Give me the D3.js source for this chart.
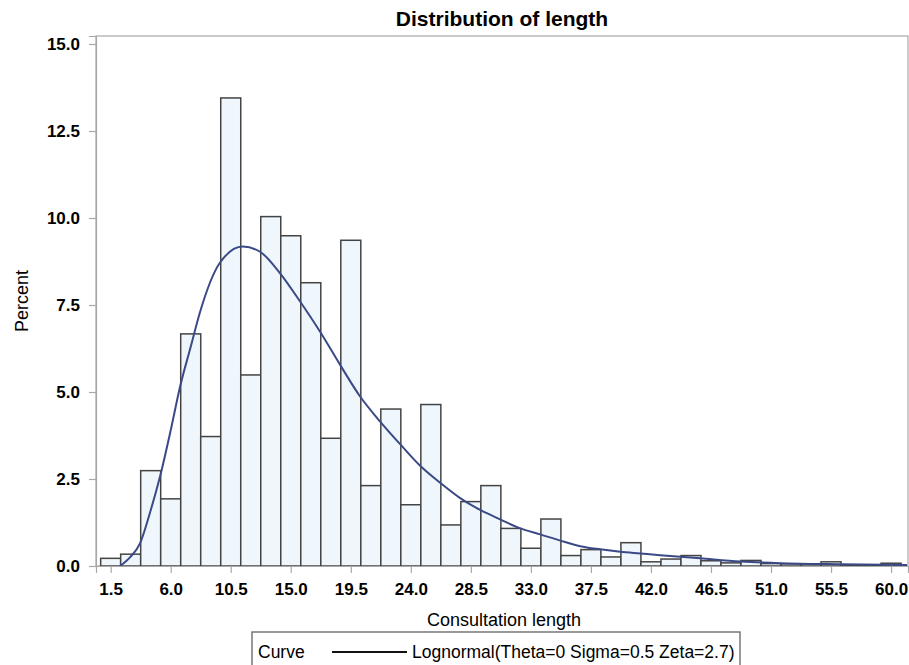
<!DOCTYPE html>
<html>
<head>
<meta charset="utf-8">
<script src="https://cdn.jsdelivr.net/npm/d3@7"></script>
<style>
  body { margin: 0; background: #fff; }
  svg { display: block; font-family: "Liberation Sans", Arial, sans-serif; }
</style>
</head>
<body>
<div id="chart"></div>
<script>
// bin midpoints (width 1.5) and percent per bin
const binMid = [1.5, 3.0, 4.5, 6.0, 7.5, 9.0, 10.5, 12.0, 13.5, 15.0,
                16.5, 18.0, 19.5, 21.0, 22.5, 24.0, 25.5, 27.0, 28.5, 30.0,
                31.5, 33.0, 34.5, 36.0, 37.5, 39.0, 40.5, 42.0, 43.5, 45.0,
                46.5, 48.0, 49.5, 51.0, 52.5, 54.0, 55.5, 57.0, 58.5, 60.0];
const binPct = [0.22, 0.34, 2.74, 1.93, 6.67, 3.72, 13.45, 5.49, 10.04, 9.49,
                8.14, 3.67, 9.36, 2.31, 4.51, 1.76, 4.64, 1.18, 1.85, 2.31,
                1.08, 0.51, 1.35, 0.30, 0.47, 0.26, 0.67, 0.12, 0.20, 0.30,
                0.15, 0.09, 0.16, 0.07, 0.06, 0.06, 0.12, 0.02, 0.02, 0.08];

// fitted lognormal curve
const curveX = [2.2, 3.0, 3.7, 4.5, 5.2, 6.0, 6.7, 7.5, 8.2, 9.7,
                11.4, 12.7, 14.2, 15.7, 17.2, 18.7, 20.2, 21.7, 23.2, 24.7,
                26.2, 27.7, 29.2, 30.7, 32.2, 33.7, 35.2, 36.7, 38.2, 39.7,
                41.2, 42.7, 45.7, 48.7, 51.7, 56.2, 61.2];
const curveY = [0.0, 0.27, 0.65, 1.6, 2.57, 3.9, 5.15, 6.3, 7.3, 8.72,
                9.18, 9.03, 8.41, 7.6, 6.73, 5.78, 4.87, 4.15, 3.5, 2.88,
                2.39, 1.95, 1.61, 1.34, 1.08, 0.91, 0.73, 0.57, 0.48, 0.41,
                0.36, 0.31, 0.22, 0.13, 0.08, 0.05, 0.03];

const xTicks = d3.range(0, 14).map(i => 1.5 + i * 4.5);
const yTicks = [0, 2.5, 5, 7.5, 10, 12.5, 15];

const width = 909, height = 665;
const plot = { left: 96, right: 908, top: 36, bottom: 566 };

const svg = d3.select("#chart").append("svg")
  .attr("width", width)
  .attr("height", height);

const x = d3.scaleLinear().domain([0.4, 61.27]).range([plot.left, plot.right]);
const y = d3.scaleLinear().domain([0, 15.23]).range([plot.bottom, plot.top]);

// frame
svg.append("rect")
  .attr("x", plot.left).attr("y", plot.top)
  .attr("width", plot.right - plot.left)
  .attr("height", plot.bottom - plot.top)
  .attr("fill", "none")
  .attr("stroke", "#a8a8a8")
  .attr("stroke-width", 1.2);

// bars
svg.append("g")
  .selectAll("rect")
  .data(binMid)
  .join("rect")
  .attr("x", d => x(d - 0.75))
  .attr("y", (d, i) => y(binPct[i]))
  .attr("width", d => x(d + 0.75) - x(d - 0.75))
  .attr("height", (d, i) => y(0) - y(binPct[i]))
  .attr("fill", "#eff7fd")
  .attr("stroke", "#444")
  .attr("stroke-width", 1.5);

// curve
const line = d3.line()
  .x(d => x(d[0]))
  .y(d => y(d[1]))
  .curve(d3.curveMonotoneX);

svg.append("path")
  .datum(curveX.map((v, i) => [v, curveY[i]]))
  .attr("d", line)
  .attr("fill", "none")
  .attr("stroke", "#3b4a86")
  .attr("stroke-width", 2);

// axes
const xAxis = svg.append("g")
  .attr("transform", `translate(0,${plot.bottom})`)
  .call(d3.axisBottom(x).tickValues(xTicks).tickFormat(d3.format(".1f")).tickSize(7).tickPadding(10));
const yAxis = svg.append("g")
  .attr("transform", `translate(${plot.left},0)`)
  .call(d3.axisLeft(y).tickValues(yTicks).tickFormat(d3.format(".1f")).tickSize(7).tickPadding(9));

[xAxis, yAxis].forEach(a => {
  a.select(".domain").attr("stroke", "#a8a8a8").attr("stroke-width", 1.2);
  a.selectAll(".tick line").attr("stroke", "#a8a8a8").attr("stroke-width", 1.2);
  a.selectAll(".tick text")
    .attr("fill", "#000")
    .style("font-size", "17px")
    .style("font-weight", "bold")
    .style("font-family", "'Liberation Sans', Arial, sans-serif");
});

// title and labels
svg.append("text")
  .attr("x", 502)
  .attr("y", 26)
  .attr("text-anchor", "middle")
  .style("font-size", "21px")
  .style("font-weight", "bold")
  .text("Distribution of length");

svg.append("text")
  .attr("x", 504)
  .attr("y", 626)
  .attr("text-anchor", "middle")
  .style("font-size", "18px")
  .text("Consultation length");

svg.append("text")
  .attr("transform", `translate(28,${(plot.top + plot.bottom) / 2}) rotate(-90)`)
  .attr("text-anchor", "middle")
  .style("font-size", "18px")
  .text("Percent");

// legend
const legend = svg.append("g");
legend.append("rect")
  .attr("x", 252).attr("y", 632)
  .attr("width", 488).attr("height", 50)
  .attr("fill", "none")
  .attr("stroke", "#555")
  .attr("stroke-width", 1.2);
legend.append("text")
  .attr("x", 258).attr("y", 658)
  .style("font-size", "17.5px")
  .text("Curve");
legend.append("line")
  .attr("x1", 332).attr("x2", 407)
  .attr("y1", 652).attr("y2", 652)
  .attr("stroke", "#111")
  .attr("stroke-width", 2);
legend.append("text")
  .attr("x", 412).attr("y", 658)
  .style("font-size", "17.5px")
  .text("Lognormal(Theta=0 Sigma=0.5 Zeta=2.7)");
</script>
</body>
</html>
